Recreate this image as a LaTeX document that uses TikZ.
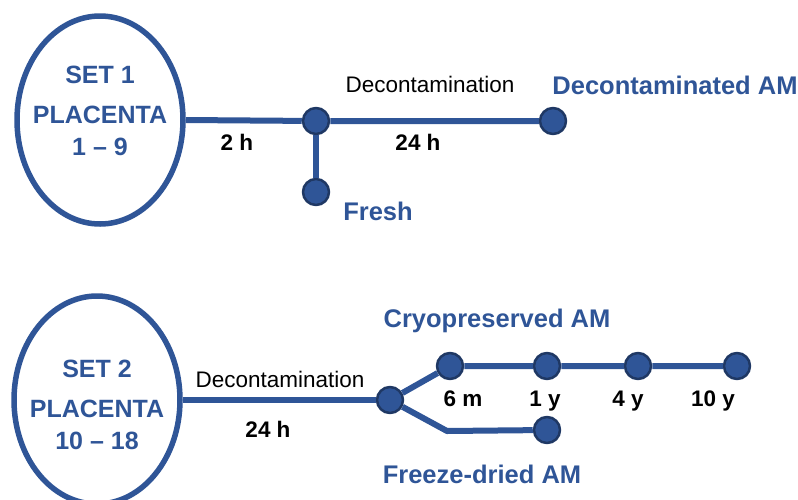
\documentclass[tikz,border=0pt]{standalone}
\usepackage{fontspec}
\setmainfont{Liberation Sans}
\usetikzlibrary{shapes.geometric}
\definecolor{amblue}{HTML}{2F5597}
\definecolor{amdark}{HTML}{1F3864}
\begin{document}
\begin{tikzpicture}[x=1pt,y=-1pt,line width=6pt,line join=round,
  dot/.style={circle,fill=amblue,draw=amdark,line width=2.5pt,minimum size=26pt,inner sep=0pt},
  setbox/.style={ellipse,draw=amblue,line width=5.5pt,minimum width=166pt,minimum height=208pt,inner sep=0pt},
  settext/.style={text=amblue,font=\fontsize{25}{32}\selectfont\bfseries,align=center},
  lab/.style={anchor=base,text=amblue,font=\fontsize{25.5}{28}\selectfont\bfseries},
  tm/.style={anchor=base,font=\fontsize{22.5}{24}\selectfont\bfseries},
  dec/.style={anchor=base,font=\fontsize{22.5}{24}\selectfont}]
\useasboundingbox (0,0) rectangle (798,499);
% set 1
\node[setbox] (set1) at (100,120) {};
\node[settext] (t1) at (100,111) {SET 1\\[8pt]PLACENTA\\1 – 9};
\node[dot] (a) at (316,121) {};
\node[dot] (fresh) at (316,192) {};
\node[dot] (decam) at (553,121) {};
\draw[amblue] (set1.east)--(a)--(decam);
\draw[amblue] (a)--(fresh);
\node[tm] (h2) at (237,150) {2 h};
\node[dec] (dc1) at (430,92) {Decontamination};
\node[tm] (h24a) at (418,150) {24 h};
\node[lab] (ldec) at (675,94) {Decontaminated AM};
\node[lab] (lfresh) at (378,220) {Fresh};
% set 2
\node[setbox] (set2) at (97,400) {};
\node[settext] (t2) at (97,405) {SET 2\\[8pt]PLACENTA\\10 – 18};
\node[dot] (b) at (390,400) {};
\foreach \n/\x/\lx/\t in {1/450/463/6 m,2/547/545/1 y,3/638/628/4 y,4/737/713/10 y}{
\node[dot] (c\n) at (\x,366) {};
\node[tm] (m\n) at (\lx,406) {\t};
}
\node[dot] (fd) at (547,430) {};
\coordinate (k) at (447,431);
\draw[amblue] (set2.east)--(b);
\draw[amblue] (b)--(c1)--(c2)--(c3)--(c4);
\draw[amblue] (b)--(k)--(fd);
\node[dec] (dc2) at (280,387) {Decontamination};
\node[tm] (h24b) at (268,437) {24 h};
\node[lab] (lcryo) at (497,327) {Cryopreserved AM};
\node[lab] (lfd) at (482,483) {Freeze-dried AM};
\end{tikzpicture}
\end{document}
